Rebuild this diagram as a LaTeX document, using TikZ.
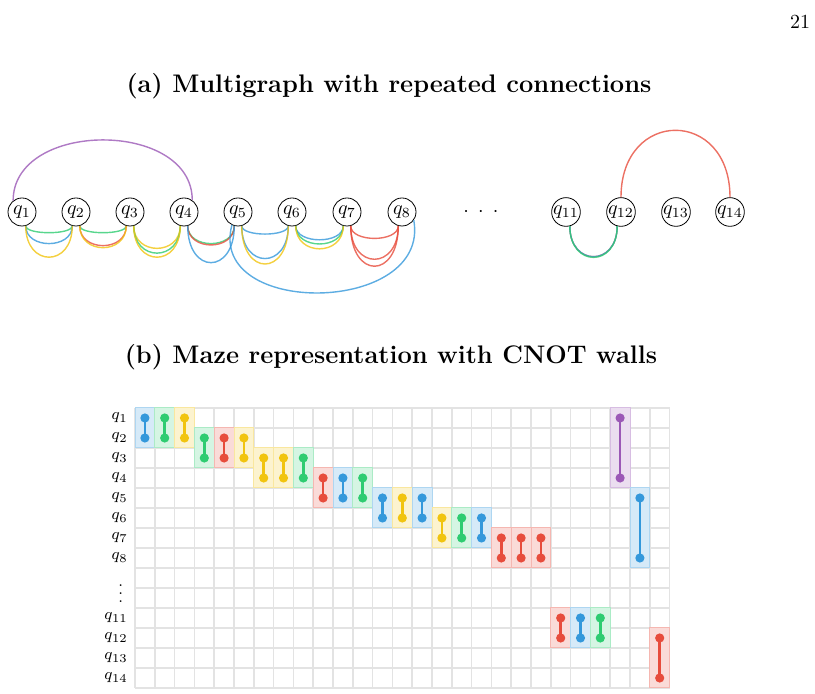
\documentclass[tikz,border=0pt]{standalone}
\usepackage{amsmath}
\usepackage{amssymb}
\usepackage{tikz}
\usepackage{xcolor}
\definecolor{qblue}{HTML}{3498DB}
\definecolor{qgreen}{HTML}{2ECC71}
\definecolor{qyellow}{HTML}{F1C40F}
\definecolor{qred}{HTML}{E74C3C}
\definecolor{qpurple}{HTML}{9B59B6}
\tikzset{
    qubit/.style = {circle, draw=black, thin, minimum size=14pt, inner sep=0pt},
    coupling/.style = {line width=0.7pt, opacity=0.8},
    maze-line/.style = {draw=black!11, line width=0.75pt},
    maze-label/.style = {font=\footnotesize, anchor=east, inner sep=0pt},
    panel-title/.style = {font=\fontsize{12.7}{15}\selectfont\bfseries},
}
% one CNOT wall: column, first row, last row, colour
\newcommand{\cnotwall}[4]{%
    \fill[#4!20, draw=#4!40, line width=0.5pt] (#1-1,#2-1) rectangle (#1,#3);
    \draw[#4, line width=1.3pt] (#1-0.5,#2-0.5) -- (#1-0.5,#3-0.5);
    \fill[#4] (#1-0.5,#2-0.5) circle (2.3pt) (#1-0.5,#3-0.5) circle (2.3pt);
}

\begin{document}
\begin{tikzpicture}[x=0.5pt,y=0.5pt]
\useasboundingbox (0,0) rectangle (815,694);
\node (page) at (800,672) {21};

% (a) coupling multigraph
\node[panel-title] (title-a) at (389,608) {(a) Multigraph with repeated connections};
\foreach \i/\x in {1/22,2/76,3/130,4/184,5/238,6/292,7/347,8/402,11/566,12/621,13/676,14/730}
    \node[qubit] (q\i) at (\x,482) {$q_{\i}$};
\node (gap) at (481,482) {${\cdot}\hspace{4.6pt}{\cdot}\hspace{4.6pt}{\cdot}$};

\foreach \a/\b/\col/\l in {1/2/qgreen/0.5, 1/2/qblue/1.3, 1/2/qyellow/2.3,
    2/3/qgreen/0.5, 2/3/qred/1.45, 2/3/qyellow/1.6,
    3/4/qyellow/1.65, 3/4/qgreen/2.0, 3/4/qyellow/2.3,
    4/5/qgreen/1.3, 4/5/qred/1.4, 4/5/qblue/2.7,
    5/6/qblue/0.6, 5/6/qblue/2.4, 5/6/qyellow/2.8,
    6/7/qblue/1.0, 6/7/qgreen/1.3, 6/7/qyellow/1.65,
    7/8/qred/0.9, 7/8/qred/2.4, 7/8/qred/2.9,
    11/12/qred/2.2, 11/12/qblue/2.2, 11/12/qgreen/2.25}
    \draw[coupling,\col] (q\a.-75) to[out=-90,in=-90,looseness=\l] (q\b.-105);
\draw[coupling,qpurple] (q1.128) to[out=90,in=90,looseness=1.15] (q4.55);
\draw[coupling,qblue] (q5.-115) to[out=-105,in=-80,looseness=1.35] (q8.-35);
\draw[coupling,qred] (q12.north) to[out=90,in=90,looseness=2.1] (q14.north);

% (b) maze with CNOT walls
\node[panel-title] (title-b) at (391,337) {(b) Maze representation with CNOT walls};
\begin{scope}[shift={(135,286)}, x=9.9pt, y=-10pt]
    \foreach \c in {0,...,27}
        \draw[maze-line] (\c,0) -- (\c,14);
    \foreach \r in {0,...,14}
        \draw[maze-line] (0,\r) -- (27,\r);
    \foreach \r in {1,...,8,11,12,13,14}
        \node[maze-label] (label\r) at (-0.35,\r-0.5) {$q_{\r}$};
    \node[font=\footnotesize] (label-dots) at (-0.72,9) {$\vdots$};
    \foreach \c/\a/\b/\col in {1/1/2/qblue, 2/1/2/qgreen, 3/1/2/qyellow,
        4/2/3/qgreen, 5/2/3/qred, 6/2/3/qyellow,
        7/3/4/qyellow, 8/3/4/qyellow, 9/3/4/qgreen,
        10/4/5/qred, 11/4/5/qblue, 12/4/5/qgreen,
        13/5/6/qblue, 14/5/6/qyellow, 15/5/6/qblue,
        16/6/7/qyellow, 17/6/7/qgreen, 18/6/7/qblue,
        19/7/8/qred, 20/7/8/qred, 21/7/8/qred,
        22/11/12/qred, 23/11/12/qblue, 24/11/12/qgreen,
        25/1/4/qpurple, 26/5/8/qblue, 27/12/14/qred}
        {\cnotwall{\c}{\a}{\b}{\col}}
\end{scope}
\end{tikzpicture}
\end{document}
